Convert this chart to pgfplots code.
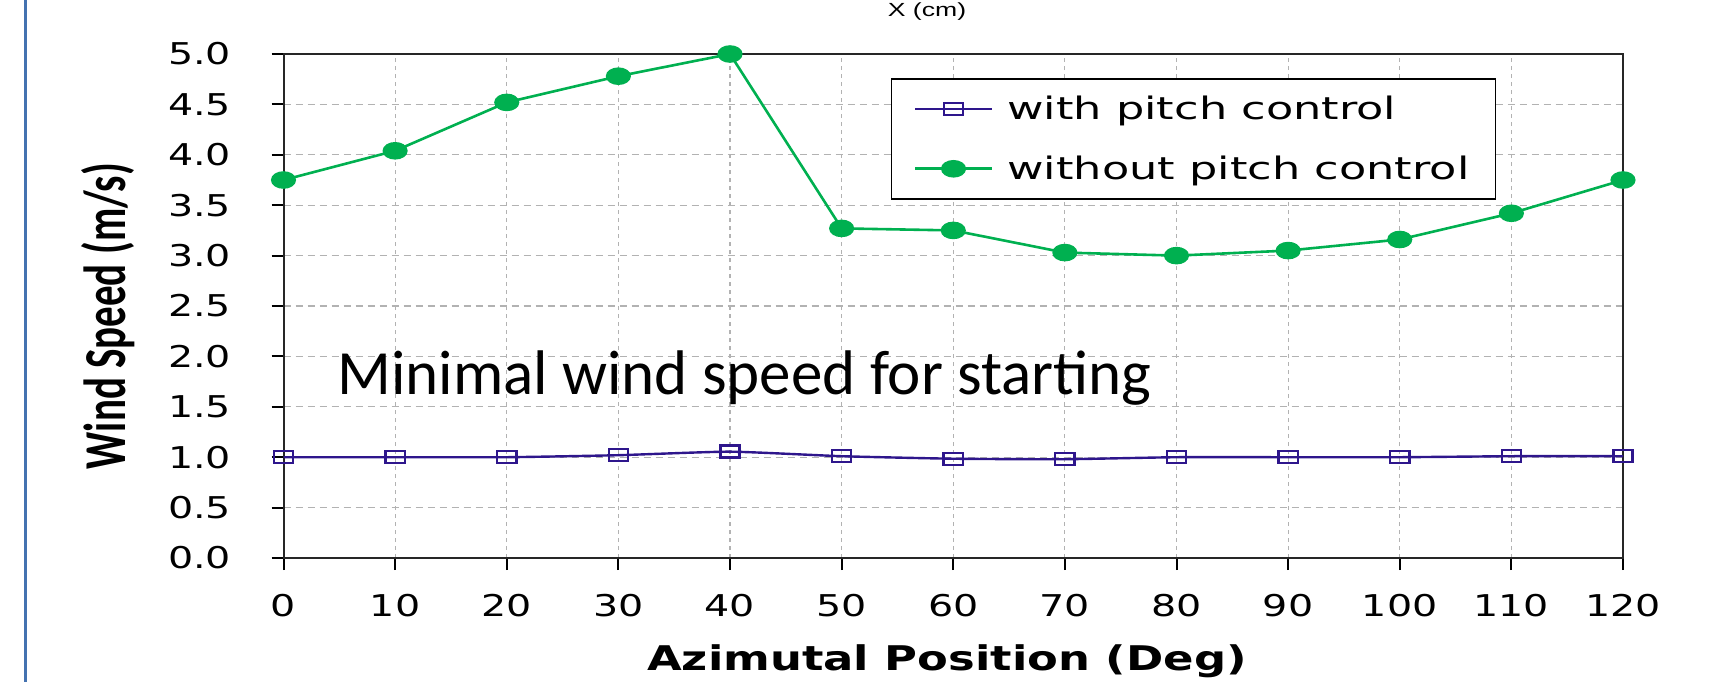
\documentclass[border=0pt]{standalone}
\usepackage{fontspec}
\usepackage{pgfplots}
\pgfplotsset{compat=1.18}
\setmainfont{DejaVu Sans}
\newfontfamily\tickfont[FakeStretch=1.32]{DejaVu Sans}
\newfontfamily\legfont[FakeStretch=1.44]{DejaVu Sans}
\newfontfamily\xlabfont[FakeStretch=1.32]{DejaVu Sans}
\newfontfamily\ylabfont[FakeStretch=0.69]{Carlito}
\newfontfamily\annfont{Carlito}
\newfontfamily\topfont[FakeStretch=1.4]{Liberation Sans}
\definecolor{sgreen}{RGB}{0,176,80}
\definecolor{sblue}{RGB}{46,22,140}
\definecolor{borderblue}{RGB}{68,114,176}
\definecolor{gridgray}{RGB}{178,178,178}
\begin{document}
\begin{tikzpicture}[x=0.5pt,y=-0.5pt]
\useasboundingbox (0,0) rectangle (1723,682);
\draw[borderblue, line width=1.5pt] (25,0) -- (25,682);
\node[font=\topfont\fontsize{9.5}{11}\selectfont, anchor=north, inner sep=0pt] at (927,2) {X (cm)};
\begin{axis}[
  at={(141.75pt,-279pt)}, anchor=south west,
  scale only axis, width=669.75pt, height=252pt,
  xmin=0, xmax=120, ymin=0, ymax=5,
  clip=false,
  xtick={0,10,20,30,40,50,60,70,80,90,100,110,120},
  ytick={0,0.5,1,1.5,2,2.5,3,3.5,4,4.5,5},
  xtick pos=bottom, ytick pos=left,
  tick align=outside, major tick length=6pt,
  tick style={black, line width=1pt},
  axis line style={black!85, line width=1pt},
  /pgf/number format/assume math mode=true,
  tick label style={font=\tickfont\fontsize{15}{18}\selectfont},
  yticklabel style={/pgf/number format/.cd, fixed, fixed zerofill, precision=1, /tikz/.cd, anchor=east, inner sep=0pt, xshift=-20pt},
  xticklabel style={anchor=north, inner sep=0pt, yshift=-12pt},
  xmajorgrids, ymajorgrids,
  x grid style={gridgray, line width=0.6pt, dash pattern=on 2pt off 2pt},
  y grid style={gridgray, line width=0.6pt, dash pattern=on 3.5pt off 2.5pt},
  xlabel={Azimutal Position (Deg)},
  xlabel style={font=\xlabfont\bfseries\fontsize{17}{20}\selectfont, at={(axis description cs:0.4953,0)}, anchor=base, yshift=-56pt, inner sep=0pt},
  ylabel={Wind Speed (m/s)},
  ylabel style={font=\ylabfont\bfseries\fontsize{29.7}{32}\selectfont, at={(axis description cs:-0.1176,0.480)}, anchor=base, inner sep=0pt},
  legend style={at={(axis description cs:0.4535,0.952)}, anchor=north west, draw=black, line width=0.75pt,
    font=\legfont\fontsize{15.5}{18}\selectfont, inner xsep=11pt, inner ysep=6.5pt, row sep=12.5pt,
    column sep=5pt, cells={anchor=west}},
  legend cell align=left,
  legend image code/.code={\draw[mark repeat=2,mark phase=2,#1] plot coordinates {(0pt,0pt) (19.25pt,0pt) (38.5pt,0pt)};},
]
\addplot[sblue, line width=1.2pt, smooth, tension=0.3, mark=square, mark size=3pt,
  mark options={xscale=1.6, solid, line width=1.2pt, fill=white}]
  coordinates {(0,1.0) (10,1.0) (20,1.0) (30,1.02) (40,1.055) (50,1.01) (60,0.985) (70,0.98) (80,1.0) (90,1.0) (100,1.0) (110,1.01) (120,1.01)};
\addlegendentry{with pitch control}
\addplot[sgreen, line width=1.3pt, mark=*, mark size=3.75pt, mark options={xscale=1.5, solid}]
  coordinates {(0,3.75) (10,4.04) (20,4.52) (30,4.78) (40,5.0) (50,3.27) (60,3.25) (70,3.03) (80,3.0) (90,3.05) (100,3.16) (110,3.42) (120,3.75)};
\addlegendentry{without pitch control}
\end{axis}
\node[anchor=base west, inner sep=0pt, font=\annfont\fontsize{31.5}{36}\selectfont] at (337,394) {Minimal wind speed for starting};
\end{tikzpicture}
\end{document}
